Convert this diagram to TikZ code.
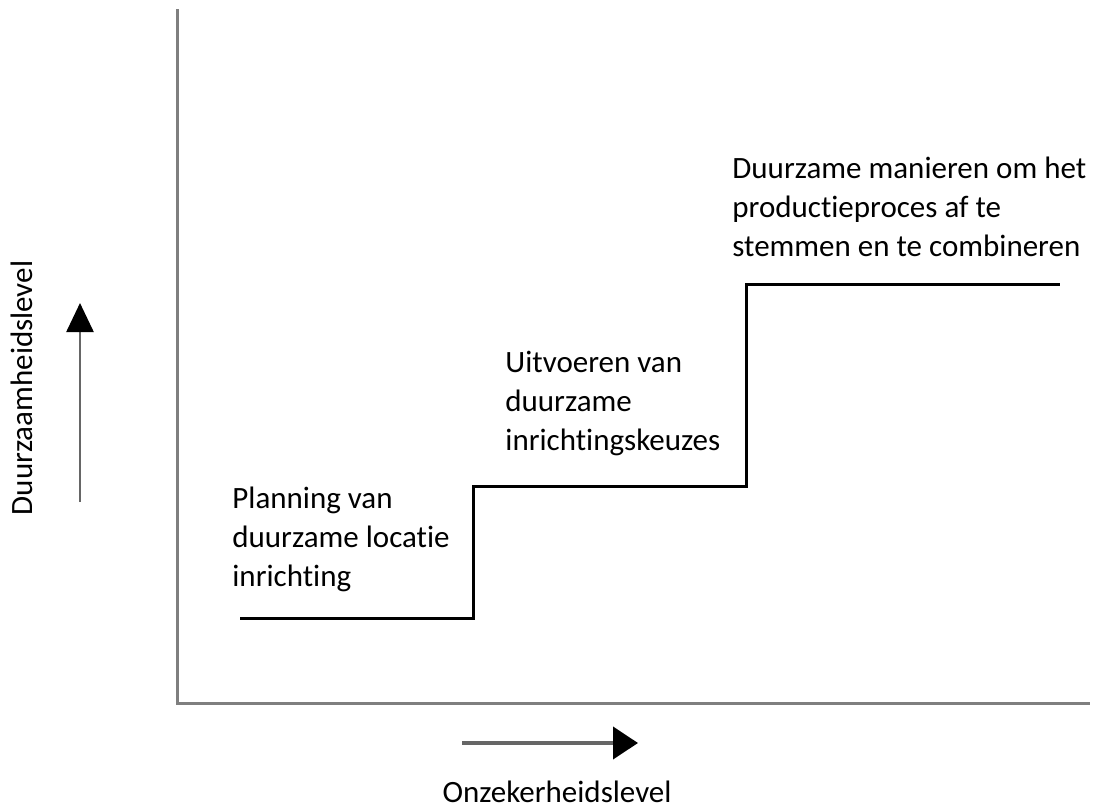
\documentclass[tikz,border=0pt]{standalone}
\usepackage{fontspec}
\setmainfont{Carlito}[Ligatures=NoCommon]
\usetikzlibrary{arrows.meta}
\definecolor{axisgray}{HTML}{7F7F7F}
\definecolor{shaftgray}{HTML}{666666}
\tikzset{
	lbl/.style={font=\fontsize{15.5pt}{19.5pt}\selectfont, align=left, inner sep=0pt, anchor=base west},
	axislbl/.style={font=\fontsize{15.5pt}{19.5pt}\selectfont, inner sep=0pt},
	axisline/.style={line width=1.5pt, color=axisgray},
	stair/.style={line width=1.5pt, color=black, line join=miter},
}

\begin{document}
\begin{tikzpicture}[x=0.5pt, y=-0.5pt]
	%%%%% START %%%%%
	\useasboundingbox (0, 0) rectangle (1094, 809);
	
	% axes
	\coordinate (ytop) at (177, 9);
	\coordinate (origin) at (177, 703);
	\coordinate (xend) at (1090, 703);
	\draw[axisline] (ytop) -- (origin) -- (xend);
	
	% staircase
	\coordinate (s0) at (240, 618);
	\coordinate (s1) at (473, 618);
	\coordinate (s2) at (473, 486);
	\coordinate (s3) at (746, 486);
	\coordinate (s4) at (746, 284);
	\coordinate (s5) at (1060, 284);
	\draw[stair] (s0) -- (s1) -- (s2) -- (s3) -- (s4) -- (s5);
	
	% direction arrows
	\coordinate (upfrom) at (80, 502);
	\coordinate (upto) at (80, 303);
	\draw[line width=1.25pt, color=shaftgray, -{Triangle[length=14.5pt, width=13.5pt, color=black]}] (upfrom) -- (upto);
	\coordinate (rfrom) at (462, 743);
	\coordinate (rto) at (638, 743);
	\draw[line width=2pt, color=shaftgray, -{Triangle[length=12.5pt, width=16pt, color=black]}] (rfrom) -- (rto);
	
	% labels (anchored at the baseline of the last line)
	\node[lbl] (plan) at (232, 586) {Planning van\\duurzame locatie\\inrichting};
	\node[lbl] (uitv) at (505, 450) {Uitvoeren van\\duurzame\\inrichtingskeuzes};
	\node[lbl] (manier) at (732, 256) {Duurzame manieren om het\\productieproces af te\\stemmen en te combineren};
	
	\node[axislbl, rotate=90] (ylbl) at (22, 388) {Duurzaamheidslevel};
	\node[axislbl, anchor=base] (xlbl) at (557, 802) {Onzekerheidslevel};
	%%%%% END %%%%%
\end{tikzpicture}
\end{document}
